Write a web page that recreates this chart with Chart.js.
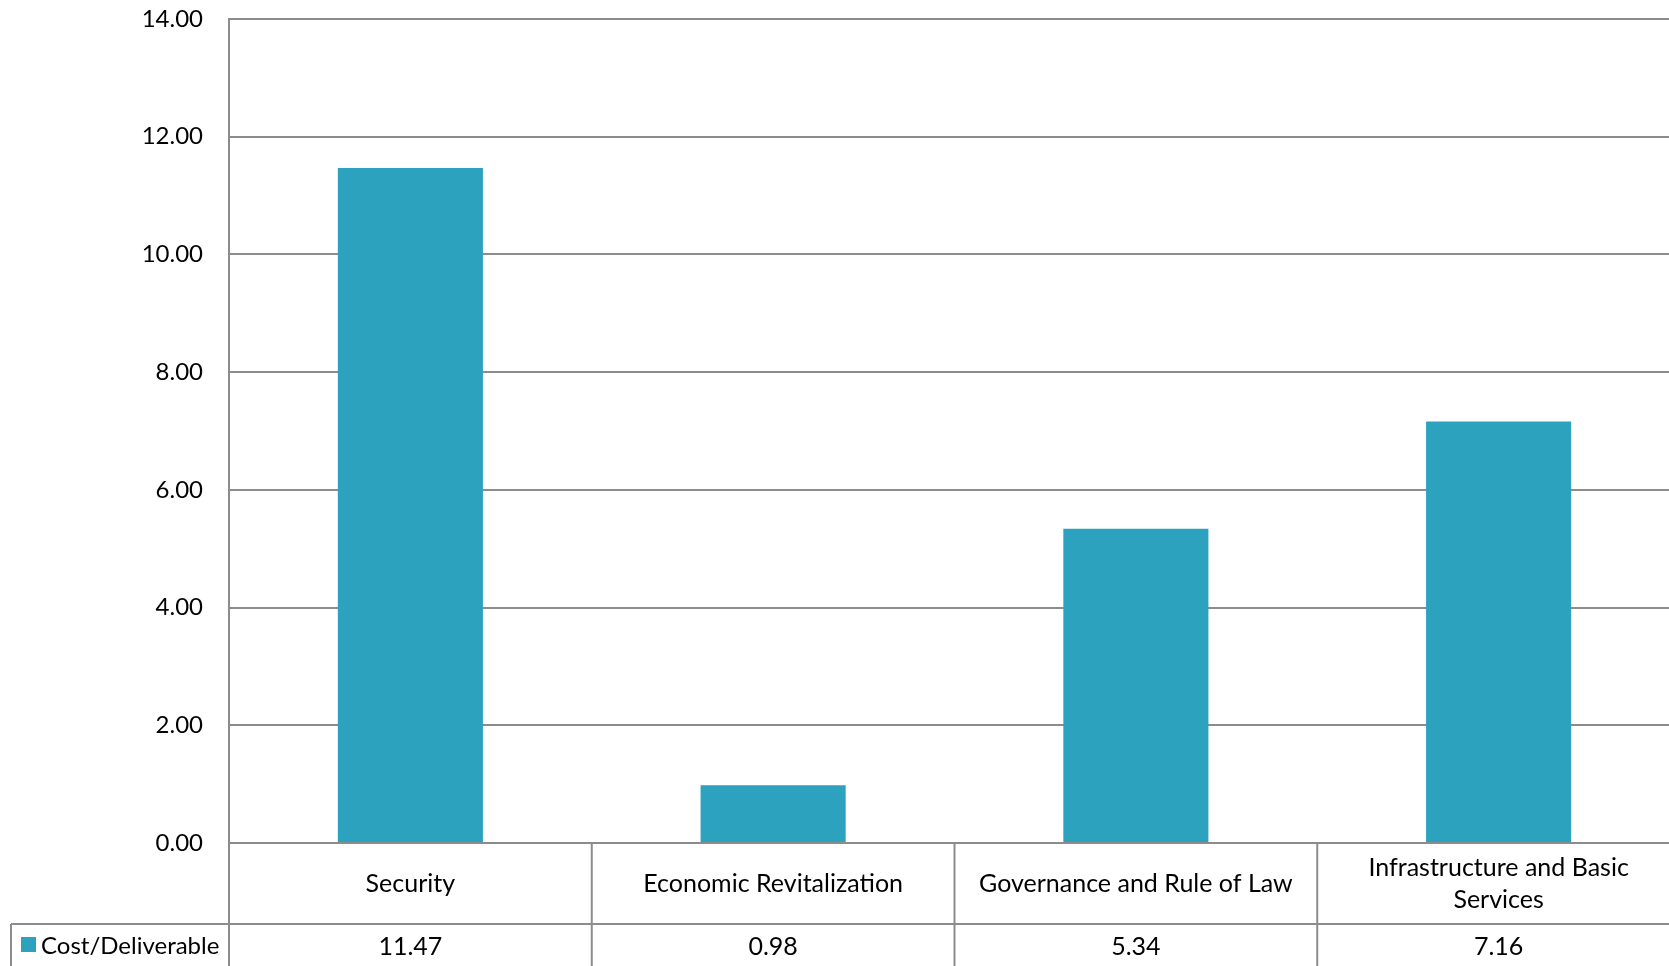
<!DOCTYPE html>
<html>
<head>
<meta charset="utf-8">
<script src="https://cdn.jsdelivr.net/npm/chart.js@4"></script>
<style>
  html, body { margin: 0; padding: 0; background: #fff; overflow: hidden; }
  #wrap { width: 1700px; height: 966px; }
</style>
</head>
<body>
<div id="wrap"><canvas id="costChart" width="1700" height="966"></canvas></div>
<script>
// Chart data
const categories = ['Security', 'Economic Revitalization', 'Governance and Rule of Law', ['Infrastructure and Basic', 'Services']];
const seriesName = 'Cost/Deliverable';
const costValues = [11.47, 0.98, 5.34, 7.16];
const yTicks = [0, 2, 4, 6, 8, 10, 12, 14];

const barColor = '#2ca2bf';
const lineColor = '#8c8c8c';
const fontFamily = 'Lato, "Open Sans", sans-serif';

// draws the data table under the plot (labels row + values row + legend key)
const dataTablePlugin = {
  id: 'dataTable',
  afterDraw(chart) {
    const ctx = chart.ctx;
    const area = chart.chartArea;
    const xScale = chart.scales.x;
    const bottom = chart.height;
    const rowSplit = area.bottom + 81;
    const tableLeft = 11;

    ctx.save();
    ctx.strokeStyle = lineColor;
    ctx.lineWidth = 2;

    // column borders
    const borders = [area.left];
    for (let i = 1; i < categories.length; i++) {
      borders.push((xScale.getPixelForValue(i - 1) + xScale.getPixelForValue(i)) / 2);
    }
    borders.push(area.right);
    borders.forEach(x => {
      ctx.beginPath();
      ctx.moveTo(x, area.bottom);
      ctx.lineTo(x, bottom);
      ctx.stroke();
    });

    // row divider + legend cell border
    ctx.beginPath();
    ctx.moveTo(tableLeft, rowSplit);
    ctx.lineTo(area.right, rowSplit);
    ctx.moveTo(tableLeft, rowSplit);
    ctx.lineTo(tableLeft, bottom);
    ctx.stroke();

    // labels and values
    ctx.fillStyle = '#000';
    ctx.font = '25px ' + fontFamily;
    ctx.textAlign = 'center';
    ctx.textBaseline = 'middle';
    const labelMid = (area.bottom + rowSplit) / 2;
    categories.forEach((label, i) => {
      const cx = xScale.getPixelForValue(i);
      const lines = Array.isArray(label) ? label : [label];
      const lineH = 32;
      const startY = labelMid - (lines.length - 1) * lineH / 2;
      lines.forEach((line, j) => ctx.fillText(line, cx, startY + j * lineH));
      ctx.fillText(costValues[i].toFixed(2), cx, rowSplit + 23);
    });

    // legend key
    ctx.fillStyle = barColor;
    ctx.fillRect(21, rowSplit + 13, 15, 15);
    ctx.fillStyle = '#000';
    ctx.textAlign = 'left';
    ctx.font = '24px ' + fontFamily;
    ctx.fillText(seriesName, 41, rowSplit + 22);
    ctx.restore();
  }
};

new Chart(document.getElementById('costChart'), {
  type: 'bar',
  data: {
    labels: categories,
    datasets: [{
      label: seriesName,
      data: costValues,
      backgroundColor: barColor,
      borderWidth: 0,
      categoryPercentage: 0.8,
      barPercentage: 0.5
    }]
  },
  options: {
    responsive: false,
    animation: false,
    layout: { padding: { top: 19, right: 20, bottom: 123, left: 0 } },
    plugins: {
      legend: { display: false },
      tooltip: { enabled: false }
    },
    scales: {
      x: { display: false },
      y: {
        min: 0,
        max: 14,
        afterFit(scale) {
          scale.width = 229;
          scale.paddingTop = 0; // tick padding otherwise pushes the plot down
        },
        afterBuildTicks(scale) { scale.ticks = yTicks.map(v => ({ value: v })); },
        ticks: {
          padding: 26,
          color: '#000',
          font: { family: fontFamily, size: 24 },
          callback: v => Number(v).toFixed(2)
        },
        grid: { color: lineColor, lineWidth: 2, drawTicks: false },
        border: { display: true, color: lineColor, width: 2 }
      }
    }
  },
  plugins: [dataTablePlugin]
});
</script>
</body>
</html>
